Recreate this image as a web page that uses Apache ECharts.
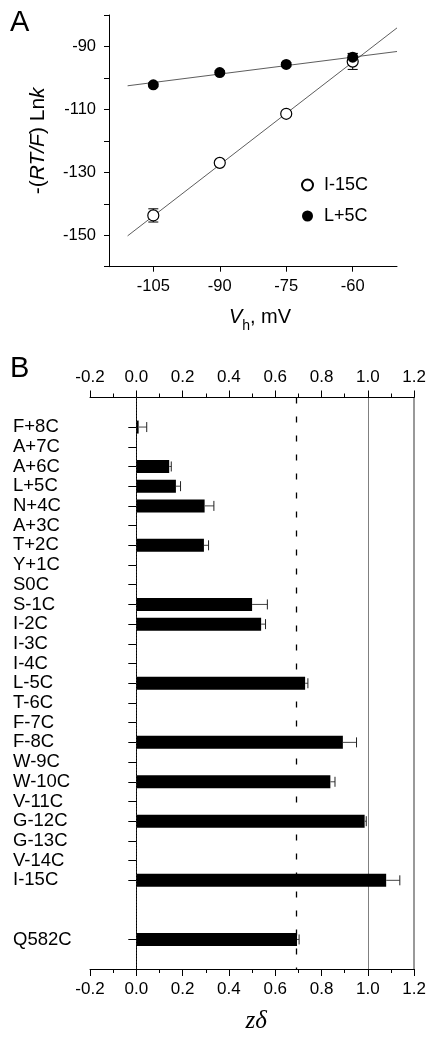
<!DOCTYPE html>
<html><head><meta charset="utf-8">
<script src="https://cdn.jsdelivr.net/npm/echarts@6/dist/echarts.min.js"></script>
<style>html,body{margin:0;padding:0;background:#fff}#c{width:429px;height:1039px}</style>
</head><body><div id="c"></div>
<script>
// ---------- Panel A data ----------
const vh = [-105, -90, -75, -60];
const i15 = [-143.7, -127.0, -111.4, -94.8];
const i15Err = [2.1, 0.8, 0.8, 2.5];
const l5 = [-102.2, -98.3, -95.7, -93.4];
const l5Err = [0.6, 0.6, 0.6, 1.2];
const fitX = [-110.8, -50];
const fitI15 = [-150.2, -84.1];
const fitL5 = [-102.5, -91.6];
const xTicksA = [-105, -90, -75, -60];
const yLabelsA = [-150, -130, -110, -90];
const yTicksA = [-160, -150, -140, -130, -120, -110, -100, -90, -80];

// ---------- Panel B data ----------
const mutants = ['F+8C','A+7C','A+6C','L+5C','N+4C','A+3C','T+2C','Y+1C','S0C','S-1C','I-2C','I-3C','I-4C','L-5C','T-6C','F-7C','F-8C','W-9C','W-10C','V-11C','G-12C','G-13C','V-14C','I-15C'];
const zdelta    = [0.010,null,0.142,0.171,0.295,null,0.292,null,null,0.500,0.539,null,null,0.729,null,null,0.892,null,0.838,null,0.986,null,null,1.079];
const zdeltaErr = [0.035,null,0.009,0.020,0.040,null,0.020,null,null,0.066,0.019,null,null,0.012,null,null,0.059,null,0.020,null,0.007,null,null,0.059];
const controlName = 'Q582C';
const controlValue = 0.694;
const controlErr = 0.009;
const refLines = [0, 0.69, 1.0, 1.2];

// build category axis with blank spacer slots
const cats = [''].concat(mutants, [' ', '  ', controlName, '   ']);
const barVals = [null].concat(zdelta, [null, null, controlValue, null]);
const barErrs = [null].concat(zdeltaErr, [null, null, controlErr, null]);
const errDataB = [];
barVals.forEach((v, i) => { if (v != null) errDataB.push([v, i, barErrs[i]]); });

const errDataA1 = vh.map((x, i) => [x, i15[i], i15Err[i]]);
const errDataA2 = vh.map((x, i) => [x, l5[i], l5Err[i]]);

const FONT = 'Liberation Sans';
const refStyles = [
  {type: [1, 2], width: 1, color: '#333'},
  {type: [6, 13], width: 1.3, color: '#000'},
  {type: [1, 1], width: 1, color: '#000'},
  {type: [1, 1], width: 1.6, color: '#000'}
];

function vErr(params, api) {
  const x = api.value(0), y = api.value(1), e = api.value(2);
  const lo = api.coord([x, y - e]), hi = api.coord([x, y + e]);
  const s = {stroke: '#000', lineWidth: 1};
  return {type: 'group', children: [
    {type: 'line', shape: {x1: lo[0], y1: lo[1], x2: hi[0], y2: hi[1]}, style: s},
    {type: 'line', shape: {x1: lo[0]-5, y1: lo[1], x2: lo[0]+5, y2: lo[1]}, style: s},
    {type: 'line', shape: {x1: hi[0]-5, y1: hi[1], x2: hi[0]+5, y2: hi[1]}, style: s}
  ]};
}
function hErr(params, api) {
  const v = api.value(0), idx = api.value(1), e = api.value(2);
  const p0 = api.coord([v, idx]), p1 = api.coord([v + e, idx]);
  return {type: 'group', children: [
    {type: 'line', shape: {x1: p0[0], y1: p0[1], x2: p1[0], y2: p1[1]}, style: {stroke: '#444', lineWidth: 1}},
    {type: 'line', shape: {x1: p1[0], y1: p1[1]-5, x2: p1[0], y2: p1[1]+5}, style: {stroke: '#222', lineWidth: 1}}
  ]};
}

const chart = echarts.init(document.getElementById('c'), null, {renderer: 'canvas'});
const axisLine = {show: true, lineStyle: {color: '#000', width: 1}};
chart.setOption({
  animation: false,
  backgroundColor: '#fff',
  textStyle: {fontFamily: FONT, color: '#000'},
  graphic: [
    {type: 'text', left: 10, top: 8, style: {text: 'A', font: '29px "Liberation Sans"', fill: '#000'}},
    {type: 'text', left: 10, top: 354, style: {text: 'B', font: '29px "Liberation Sans"', fill: '#000'}}
  ],
  legend: {
    orient: 'vertical', left: 301, top: 176, padding: 0,
    itemWidth: 11, itemHeight: 11, itemGap: 13,
    data: ['I-15C', 'L+5C'],
    textStyle: {fontSize: 18, fontFamily: FONT, color: '#000', padding: [0, 0, 0, 6]}
  },
  grid: [
    {left: 109, right: 32, top: 15, bottom: 772.3, containLabel: false},
    {left: 90, right: 14, top: 397.5, bottom: 64, containLabel: false}
  ],
  xAxis: [
    {
      gridIndex: 0, type: 'value', min: -115, max: -50,
      axisLine: axisLine,
      axisTick: {show: true, customValues: xTicksA, length: 5, lineStyle: {color: '#000'}},
      axisLabel: {customValues: xTicksA, fontSize: 16.5, color: '#000', margin: 11, fontFamily: FONT},
      splitLine: {show: false},
      name: '{i|V}{s|h}{n|, mV}', nameLocation: 'middle', nameGap: 36,
      nameTextStyle: {padding: [0, 0, 0, 14], rich: {
        i: {fontSize: 20, fontStyle: 'italic', fontFamily: FONT, lineHeight: 30, verticalAlign: 'middle'},
        s: {fontSize: 14, fontFamily: FONT, lineHeight: 14, verticalAlign: 'bottom'},
        n: {fontSize: 20, fontFamily: FONT, lineHeight: 30, verticalAlign: 'middle'}
      }}
    },
    {
      gridIndex: 1, type: 'value', min: -0.2, max: 1.2, interval: 0.2, position: 'bottom',
      axisLine: axisLine,
      axisTick: {show: true, length: 7, lineStyle: {color: '#000'}},
      minorTick: {show: true, splitNumber: 2, length: 4, lineStyle: {color: '#000'}},
      axisLabel: {fontSize: 17, color: '#000', margin: 12, fontFamily: FONT, formatter: v => v.toFixed(1)},
      splitLine: {show: false},
      name: 'zδ', nameLocation: 'middle', nameGap: 40,
      nameTextStyle: {fontSize: 25, fontStyle: 'italic', fontFamily: 'Liberation Serif', color: '#000', padding: [0, 0, 0, 8]}
    },
    {
      gridIndex: 1, type: 'value', min: -0.2, max: 1.2, interval: 0.2, position: 'top',
      axisLine: axisLine,
      axisTick: {show: true, length: 7, lineStyle: {color: '#000'}},
      minorTick: {show: true, splitNumber: 2, length: 4, lineStyle: {color: '#000'}},
      axisLabel: {fontSize: 17, color: '#000', margin: 12, fontFamily: FONT, formatter: v => v.toFixed(1)},
      splitLine: {show: false}
    }
  ],
  yAxis: [
    {
      gridIndex: 0, type: 'value', min: -160, max: -80,
      axisLine: axisLine,
      axisTick: {show: true, customValues: yTicksA, length: 5, lineStyle: {color: '#000'}},
      axisLabel: {customValues: yLabelsA, fontSize: 16.5, color: '#000', margin: 13, fontFamily: FONT},
      splitLine: {show: false},
      name: '{n|-(}{i|RT/F}{n|) Ln}{i|k}', nameLocation: 'middle', nameGap: 60,
      nameTextStyle: {rich: {
        n: {fontSize: 21, fontFamily: FONT, color: '#000'},
        i: {fontSize: 21, fontFamily: FONT, fontStyle: 'italic', color: '#000'}
      }}
    },
    {
      gridIndex: 1, type: 'category', data: cats, inverse: true,
      axisLine: axisLine,
      axisTick: {show: true, alignWithLabel: true, length: 8, lineStyle: {color: '#000'},
                 interval: (i, v) => v.trim() !== ''},
      axisLabel: {interval: 0, align: 'left', margin: 77, fontSize: 18.5, color: '#000', fontFamily: FONT},
      splitLine: {show: false}
    }
  ],
  series: [
    {type: 'custom', name: 'errA1', xAxisIndex: 0, yAxisIndex: 0, renderItem: vErr, data: errDataA1, z: 1, silent: true},
    {type: 'custom', name: 'errA2', xAxisIndex: 0, yAxisIndex: 0, renderItem: vErr, data: errDataA2, z: 1, silent: true},
    {type: 'line', name: 'fitI15', xAxisIndex: 0, yAxisIndex: 0, data: fitX.map((x, i) => [x, fitI15[i]]),
     showSymbol: false, lineStyle: {color: '#333', width: 0.8}, z: 2, silent: true},
    {type: 'line', name: 'fitL5', xAxisIndex: 0, yAxisIndex: 0, data: fitX.map((x, i) => [x, fitL5[i]]),
     showSymbol: false, lineStyle: {color: '#333', width: 0.8}, z: 2, silent: true},
    {type: 'scatter', name: 'I-15C', xAxisIndex: 0, yAxisIndex: 0, data: vh.map((x, i) => [x, i15[i]]),
     symbol: 'circle', symbolSize: 11, itemStyle: {color: '#fff', borderColor: '#000', borderWidth: 1.2, opacity: 1}, z: 3},
    {type: 'scatter', name: 'L+5C', xAxisIndex: 0, yAxisIndex: 0, data: vh.map((x, i) => [x, l5[i]]),
     symbol: 'circle', symbolSize: 11, itemStyle: {color: '#000', borderColor: '#000', borderWidth: 0, opacity: 1}, z: 3},
    {type: 'bar', name: 'zd', xAxisIndex: 1, yAxisIndex: 1, data: barVals, barWidth: 13,
     itemStyle: {color: '#000'}, z: 2,
     markLine: {symbol: 'none', silent: true, label: {show: false},
       data: refLines.map((v, i) => ({xAxis: v, lineStyle: refStyles[i]}))}},
    {type: 'custom', name: 'errB', xAxisIndex: 1, yAxisIndex: 1, renderItem: hErr, data: errDataB, z: 3, silent: true}
  ]
});
</script></body></html>
